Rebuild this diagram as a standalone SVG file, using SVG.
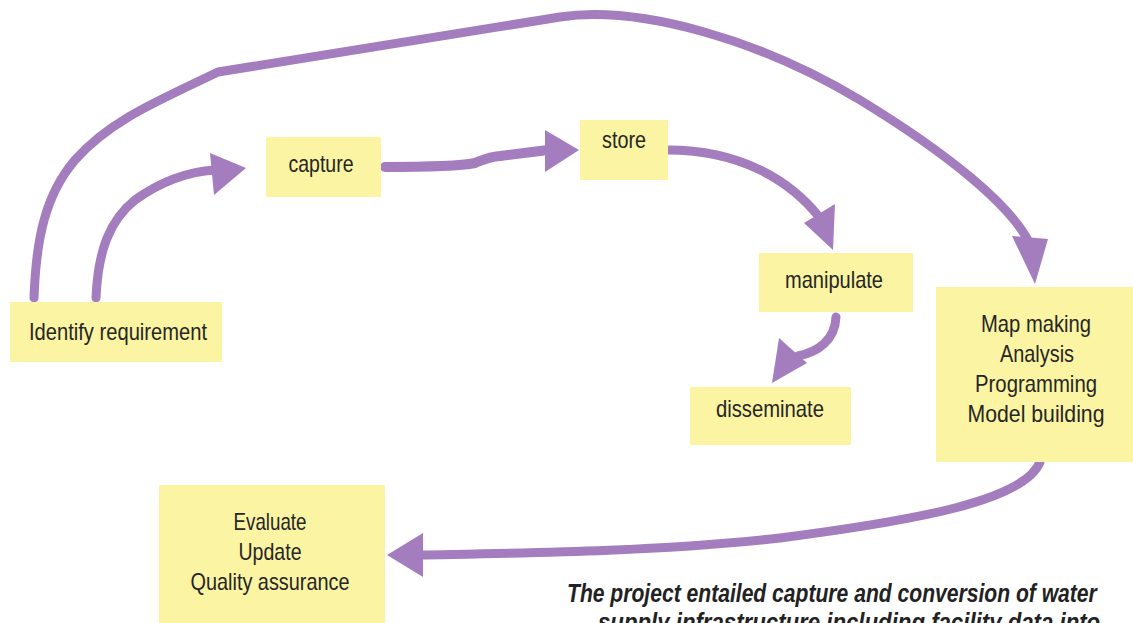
<svg xmlns="http://www.w3.org/2000/svg" width="1133" height="623" viewBox="0 0 1133 623">
<style>
.box{fill:#fbf4a3}
.t{font-family:"Liberation Sans",Arial,sans-serif;font-size:24px;fill:#262626;text-anchor:middle}
.cap{font-family:"Liberation Sans",Arial,sans-serif;font-size:25px;font-weight:bold;font-style:italic;fill:#222}
.c{fill:none;stroke:#a47dbf;stroke-width:9;stroke-linecap:round;stroke-linejoin:round}
.h{fill:#a47dbf}
</style>
<rect width="1133" height="623" fill="#ffffff"/>
<g id="connectors">
<path class="c" d="M34,298 C36,240 45,195 75,160 C110,120 160,100 218,72 L560,17 C640,5 760,40 860,100 C950,155 1010,205 1029,242"/>
<polygon class="h" points="1012,236 1048,239 1035,284"/>
<path class="c" d="M96,298 C98,250 110,220 135,200 C160,182 185,172 215,170"/>
<polygon class="h" points="210,153 214,195 246,168"/>
<path class="c" style="stroke-width:10" d="M385,167 C420,167 460,166 475,163 C483,160 488,157 500,156 L548,150"/>
<polygon class="h" points="545,130 545,172 579,150"/>
<path class="c" d="M668,150 C740,150 790,180 820,218"/>
<polygon class="h" points="804,223 835,204 833,250"/>
<path class="c" d="M836,317 C835,340 818,352 798,356"/>
<polygon class="h" points="779,338 807,363 772,383"/>
<path class="c" d="M1040,462 C1025,500 920,520 780,538 C650,552 520,553 420,555"/>
<polygon class="h" points="423,533 423,577 387,555"/>
</g>
<g id="identify"><rect class="box" x="10" y="302" width="212" height="60"/><text class="t" x="118" y="340" textLength="178" lengthAdjust="spacingAndGlyphs">Identify requirement</text></g>
<g id="capture"><rect class="box" x="266" y="137" width="115" height="60"/><text class="t" x="321" y="172" textLength="65" lengthAdjust="spacingAndGlyphs">capture</text></g>
<g id="store"><rect class="box" x="580" y="120" width="88" height="60"/><text class="t" x="624" y="148" textLength="44" lengthAdjust="spacingAndGlyphs">store</text></g>
<g id="manipulate"><rect class="box" x="759" y="253" width="154" height="59"/><text class="t" x="834" y="288" textLength="98" lengthAdjust="spacingAndGlyphs">manipulate</text></g>
<g id="disseminate"><rect class="box" x="690" y="387" width="161" height="58"/><text class="t" x="770" y="417" textLength="108" lengthAdjust="spacingAndGlyphs">disseminate</text></g>
<g id="mapmaking"><rect class="box" x="936" y="287" width="197" height="175"/>
<text class="t" x="1036" y="332" textLength="110" lengthAdjust="spacingAndGlyphs">Map making</text>
<text class="t" x="1037" y="362" textLength="74" lengthAdjust="spacingAndGlyphs">Analysis</text>
<text class="t" x="1036" y="392" textLength="122" lengthAdjust="spacingAndGlyphs">Programming</text>
<text class="t" x="1036" y="422" textLength="137" lengthAdjust="spacingAndGlyphs">Model building</text></g>
<g id="evaluate"><rect class="box" x="159" y="485" width="226" height="138"/>
<text class="t" x="270" y="530" textLength="73" lengthAdjust="spacingAndGlyphs">Evaluate</text>
<text class="t" x="270" y="560" textLength="63" lengthAdjust="spacingAndGlyphs">Update</text>
<text class="t" x="270" y="590" textLength="159" lengthAdjust="spacingAndGlyphs">Quality assurance</text></g>
<g id="caption">
<text class="cap" transform="translate(567,602) scale(0.844,1)" x="0" y="0">The project entailed capture and conversion of water</text>
<text class="cap" transform="translate(598,631) scale(0.844,1)" x="0" y="0" textLength="595" lengthAdjust="spacingAndGlyphs">supply infrastructure including facility data into</text>
</g>
</svg>
